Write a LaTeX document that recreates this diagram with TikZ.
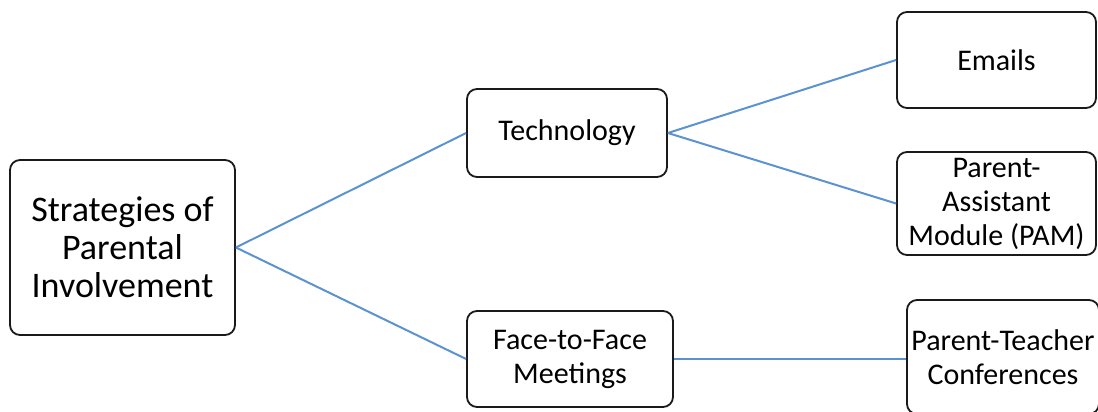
\documentclass[tikz,border=0pt]{standalone}
\usepackage{fontspec}
\setmainfont{Carlito}
\definecolor{linkblue}{HTML}{5B93D0}
\definecolor{boxline}{HTML}{1A1A1A}
\begin{document}
\begin{tikzpicture}[x=1pt,y=-1pt,
  box/.style={draw=boxline,line width=1.8pt,rounded corners=10pt,fill=white,
    align=center,inner sep=0pt,font=\fontsize{30}{34}\selectfont},
  link/.style={draw=linkblue,line width=2pt}]
\useasboundingbox (0,0) rectangle (1098,412);
\clip (0,0) rectangle (1098,412);
\node[box,minimum width=225pt,minimum height=175pt,font=\fontsize{36}{38}\selectfont] (root) at (122.5,247.5) {Strategies of\\Parental\\Involvement};
\node[box,minimum width=200pt,minimum height=88pt] (tech) at (567,133) {Technology};
\node[box,minimum width=206pt,minimum height=96pt] (face) at (570,359) {Face-to-Face\\Meetings};
\node[box,minimum width=199pt,minimum height=96pt] (email) at (996.5,60) {Emails};
\node[box,minimum width=199pt,minimum height=103pt] (pam) at (996.5,203.5) {Parent-\\Assistant\\Module (PAM)};
\node[box,minimum width=192pt,minimum height=114pt] (ptc) at (1003,357) {Parent-Teacher\\Conferences};
\draw[link] (root.east) -- (tech.west);
\draw[link] (root.east) -- (face.west);
\draw[link] (tech.east) -- (email.west);
\draw[link] (tech.east) -- (pam.west);
\draw[link] (face.east) -- (face.east -| ptc.west);
\end{tikzpicture}
\end{document}
